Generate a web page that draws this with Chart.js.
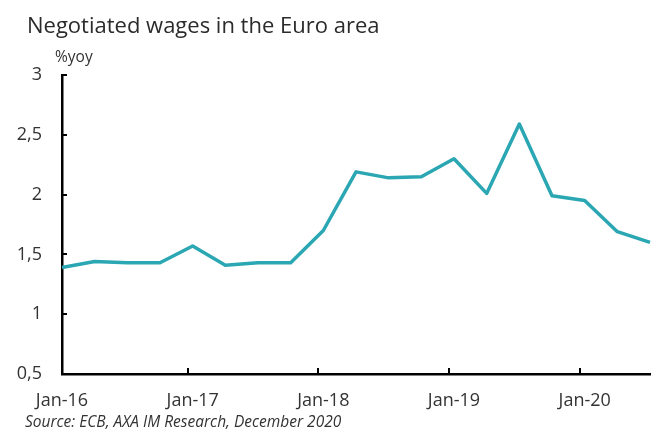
<!DOCTYPE html>
<html>
<head>
<meta charset="utf-8">
<script src="https://cdn.jsdelivr.net/npm/chart.js@4.4.1/dist/chart.umd.min.js"></script>
<style>
  html, body { margin: 0; padding: 0; background: #fff; }
  #wrap { position: relative; width: 654px; height: 430px; font-family: "Open Sans", sans-serif; color: #333; }
  #chart { position: absolute; left: 0; top: 0; }
  .title { position: absolute; left: 27px; top: 9px; font-size: 22px; color: #2b2b2b; white-space: nowrap; }
  .unit { position: absolute; left: 55px; top: 45px; font-size: 15.5px; color: #333; }
  .source { position: absolute; left: 25px; top: 410px; font-size: 15.5px; font-style: italic; color: #333; white-space: nowrap; }
</style>
</head>
<body>
<div id="wrap">
  <canvas id="chart" width="654" height="430"></canvas>
  <div class="title">Negotiated wages in the Euro area</div>
  <div class="unit">%yoy</div>
  <div class="source">Source: ECB, AXA IM Research, December 2020</div>
</div>
<script>
// quarterly observations, Q1 2016 .. Q3 2020
const periods = ['Jan-16', 'Apr-16', 'Jul-16', 'Oct-16',
                 'Jan-17', 'Apr-17', 'Jul-17', 'Oct-17',
                 'Jan-18', 'Apr-18', 'Jul-18', 'Oct-18',
                 'Jan-19', 'Apr-19', 'Jul-19', 'Oct-19',
                 'Jan-20', 'Apr-20', 'Jul-20'];
const wages = [1.39, 1.44, 1.43, 1.43,
               1.57, 1.41, 1.43, 1.43,
               1.70, 2.19, 2.14, 2.15,
               2.30, 2.01, 2.59, 1.99,
               1.95, 1.69, 1.60];
const yTicks = [0.5, 1, 1.5, 2, 2.5, 3];

// short tick marks drawn inside the plot, like the Excel original
const innerTicks = {
  id: 'innerTicks',
  afterDatasetsDraw(chart) {
    const ctx = chart.ctx;
    const x = chart.scales.x, y = chart.scales.y;
    ctx.save();
    ctx.strokeStyle = '#000';
    ctx.lineWidth = 2;
    yTicks.forEach(v => {
      const py = Math.round(y.getPixelForValue(v));
      ctx.beginPath();
      ctx.moveTo(x.left, py);
      ctx.lineTo(x.left + 5, py);
      ctx.stroke();
    });
    periods.forEach((p, i) => {
      if (i === 0 || !p.startsWith('Jan')) return;
      const px = Math.round(x.getPixelForValue(i)) - 5;
      ctx.beginPath();
      ctx.moveTo(px, y.bottom);
      ctx.lineTo(px, y.bottom - 6);
      ctx.stroke();
    });
    ctx.restore();
  }
};

new Chart(document.getElementById('chart'), {
  type: 'line',
  data: {
    labels: periods,
    datasets: [{
      data: wages,
      borderColor: '#2ba7b3',
      borderWidth: 3.5,
      borderJoinStyle: 'round',
      pointRadius: 0,
      tension: 0,
      fill: false
    }]
  },
  options: {
    responsive: false,
    animation: false,
    layout: {padding: {top: 75, right: 4, left: 0, bottom: 0}},
    plugins: {legend: {display: false}, tooltip: {enabled: false}},
    scales: {
      x: {
        offset: false,
        grid: {display: false, drawTicks: false},
        border: {display: true, color: '#000', width: 2.5},
        afterFit: s => { s.height = 56; s.paddingLeft = 0; s.paddingRight = 0; },
        ticks: {
          autoSkip: false,
          maxRotation: 0,
          padding: 16,
          color: '#333',
          font: {family: 'Open Sans', size: 18},
          callback: (v, i) => periods[i].startsWith('Jan') ? periods[i] : ''
        }
      },
      y: {
        min: 0.5,
        max: 3,
        grid: {display: false, drawTicks: false},
        border: {display: true, color: '#000', width: 2.5},
        afterFit: s => { s.width = 62; },
        afterBuildTicks: s => { s.ticks = yTicks.map(v => ({value: v})); },
        ticks: {
          padding: 20,
          color: '#333',
          font: {family: 'Open Sans', size: 18},
          callback: v => String(v).replace('.', ',')
        }
      }
    }
  },
  plugins: [innerTicks]
});
</script>
</body>
</html>
